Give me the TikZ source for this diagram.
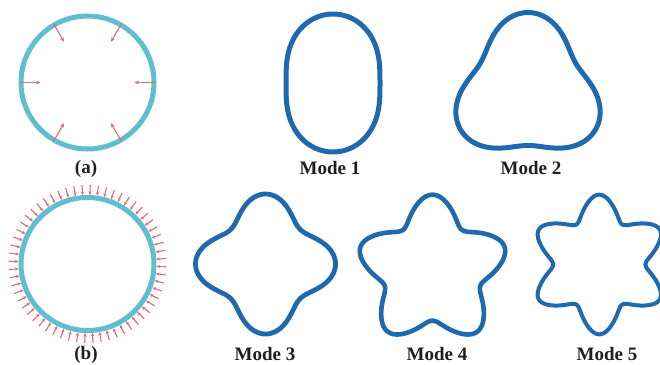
\documentclass[tikz,border=0pt]{standalone}
\usepackage{fontspec}
\setmainfont{Liberation Serif}
\usetikzlibrary{arrows.meta}
\definecolor{ringblue}{HTML}{5FBFCE}
\definecolor{modeblue}{HTML}{1F6AAE}
\definecolor{pushred}{HTML}{E8657A}
\tikzset{
  ring/.style={draw=ringblue,line width=5pt},
  modeline/.style={draw=modeblue,line width=#1,line join=round},
  modeline/.default=4.5pt,
  push/.style={draw=pushred,line width=1.1pt,-{Stealth[length=4.5pt,width=3.8pt]}},
  pushsmall/.style={draw=pushred,line width=1.1pt,-{Stealth[length=3.6pt,width=3.2pt]}},
  caption/.style={font=\fontsize{19}{20}\selectfont\bfseries,inner sep=0pt,text=black!88}
}
% R, a, n, phi, third-harmonic share, line width
\newcommand{\modecurve}[6]{%
  \draw[modeline=#6] plot[domain=0:360,samples=241,variable=\t]
    ({(#1+#2*(cos(#3*(\t-#4))+#5*cos(3*#3*(\t-#4))))*cos(\t)},{(#1+#2*(cos(#3*(\t-#4))+#5*cos(3*#3*(\t-#4))))*sin(\t)}) -- cycle;
}
\begin{document}
\begin{tikzpicture}[x=1pt,y=-1pt]
\useasboundingbox (0,0) rectangle (660,364);
\clip (0,0) rectangle (660,364);
\fill[white] (0,0) rectangle (660,364);
% (a)
\draw[ring] (87.5,82.5) circle[radius=66.5pt];
\foreach \ang in {0,60,120,180,240,300}
  \draw[push] (87.5,82.5) ++(\ang:68) -- ++(\ang:-21);
% (b)
\foreach \ang in {2,8,...,356}
  \draw[pushsmall] (87.5,264) ++(\ang:79) -- ++(\ang:-10);
\draw[ring] (87.5,264) circle[radius=66.5pt];
% modes
\begin{scope}[shift={(333,83)}]\modecurve{58}{11}{2}{90}{0}{5pt}\end{scope}
\begin{scope}[shift={(528,90.5)}]\modecurve{66.5}{11.5}{3}{270}{0}{5pt}\end{scope}
\begin{scope}[shift={(265.5,264)}]\modecurve{59.5}{10.5}{4}{0}{0}{4.8pt}\end{scope}
\begin{scope}[shift={(432.5,270.5)}]\modecurve{63}{12.5}{5}{270}{0.025}{4.6pt}\end{scope}
\begin{scope}[shift={(599.3,264.5)}]\modecurve{58}{11.5}{6}{270}{0.03}{4pt}\end{scope}
% labels
\node[caption] (capa) at (86,169) {(a)};
\node[caption] (capb) at (86,355) {(b)};
\node[caption] (m1) at (330,168) {Mode 1};
\node[caption] (m2) at (531,168) {Mode 2};
\node[caption] (m3) at (265,354) {Mode 3};
\node[caption] (m4) at (437,354) {Mode 4};
\node[caption] (m5) at (607,354) {Mode 5};
\end{tikzpicture}
\end{document}
